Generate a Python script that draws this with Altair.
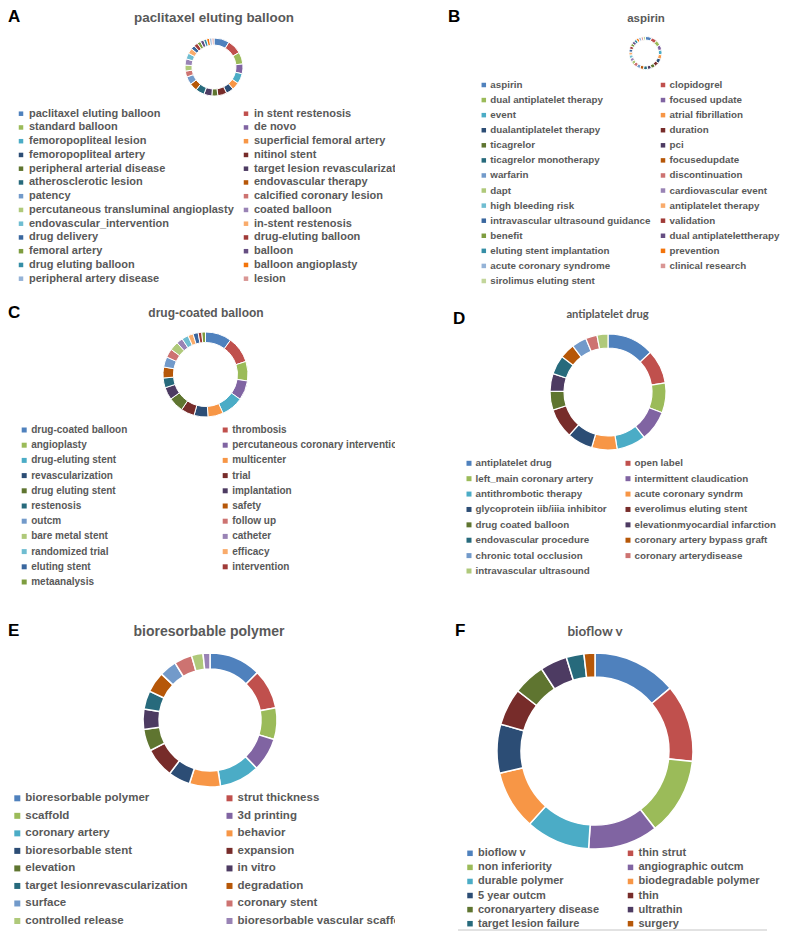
import altair as alt
import pandas as pd

palette = ["#4F81BD", "#C0504D", "#9BBB59", "#8064A2", "#4BACC6", "#F79646",
           "#2C4D75", "#772C2A", "#5F7530", "#4D3B62", "#276A7C", "#B65708",
           "#729ACA", "#CD7371", "#AFC97A", "#9983B5", "#6FBDD1", "#F9AB6B",
           "#3A679F", "#A03B38", "#7E9D40", "#654E82", "#358EA6", "#F3740B",
           "#95B3D7", "#D99694", "#C3D69B", "#B3A2C7", "#93CDDD", "#FAC090"]

a_title = "paclitaxel eluting balloon"
a_keys = ["paclitaxel eluting balloon", "in stent restenosis", "standard balloon", "de novo",
          "femoropopliteal lesion", "superficial femoral artery", "femoropopliteal artery",
          "nitinol stent", "peripheral arterial disease", "target lesion revascularization",
          "atherosclerotic lesion", "endovascular therapy", "patency", "calcified coronary lesion",
          "percutaneous transluminal angioplasty", "coated balloon", "endovascular_intervention",
          "in-stent restenosis", "drug delivery", "drug-eluting balloon", "femoral artery",
          "balloon", "drug eluting balloon", "balloon angioplasty", "peripheral artery disease",
          "lesion"]
a_vals = [31, 29, 24, 19.6, 20.6, 15, 15, 18, 12, 16, 17.7, 15.8, 16, 12, 12, 12.5, 12,
          10.6, 8, 8, 7, 7, 6, 6, 5, 4]

b_title = "aspirin"
b_keys = ["aspirin", "clopidogrel", "dual antiplatelet therapy", "focused update", "event",
          "atrial fibrillation", "dualantiplatelet therapy", "duration", "ticagrelor", "pci",
          "ticagrelor monotherapy", "focusedupdate", "warfarin", "discontinuation", "dapt",
          "cardiovascular event", "high bleeding risk", "antiplatelet therapy",
          "intravascular ultrasound guidance", "validation", "benefit",
          "dual antiplatelettherapy", "eluting stent implantation", "prevention",
          "acute coronary syndrome", "clinical research", "sirolimus eluting stent"]
b_vals = [22, 20, 19, 18, 17, 16, 16, 15, 15, 14, 14, 13, 13, 13, 12, 12, 12, 11, 11, 11,
          10, 10, 10, 9, 9, 8, 8]

c_title = "drug-coated balloon"
c_keys = ["drug-coated balloon", "thrombosis", "angioplasty", "percutaneous coronary intervention",
          "drug-eluting stent", "multicenter", "revascularization", "trial", "drug eluting stent",
          "implantation", "restenosis", "safety", "outcm", "follow up", "bare metal stent",
          "catheter", "randomized trial", "efficacy", "eluting stent", "intervention",
          "metaanalysis"]
c_vals = [36, 36, 26.7, 26.7, 30, 21, 19, 18.5, 20.6, 17, 13.4, 15, 14, 11.8, 12, 8.6, 9,
          7.2, 7, 5, 5]

d_title = "antiplatelet drug"
d_keys = ["antiplatelet drug", "open label", "left_main coronary artery",
          "intermittent claudication", "antithrombotic therapy", "acute coronary syndrm",
          "glycoprotein iib/iiia inhibitor", "everolimus eluting stent", "drug coated balloon",
          "elevationmyocardial infarction", "endovascular procedure",
          "coronary artery bypass graft", "chronic total occlusion", "coronary arterydisease",
          "intravascular ultrasound"]
d_vals = [47, 34, 30, 30.5, 29.5, 25.5, 25.5, 30, 19, 17.7, 19, 15, 15, 11.5, 11]

e_title = "bioresorbable polymer"
e_keys = ["bioresorbable polymer", "strut thickness", "scaffold", "3d printing",
          "coronary artery", "behavior", "bioresorbable stent", "expansion", "elevation",
          "in vitro", "target lesionrevascularization", "degradation", "surface",
          "coronary stent", "controlled release", "bioresorbable vascular scaffold"]
e_vals = [45, 34.5, 27.5, 29, 35, 27, 19, 26, 19, 17.6, 16, 18, 15, 15.5, 10, 6]

f_title = "bioflow v"
f_keys = ["bioflow v", "thin strut", "non inferiority", "angiographic outcm",
          "durable polymer", "biodegradable polymer", "5 year outcm", "thin",
          "coronaryartery disease", "ultrathin", "target lesion failure", "surgery"]
f_vals = [50, 46, 46, 41.5, 38, 35, 29, 22, 19, 16, 10.5, 6.5]

FONT = "Liberation Sans"
GREY = "#595959"


def panel(letter, title, keys, vals, w, h, letter_xy, title_xy, tfont, tsize, center,
          r_out, r_in, stroke_w, sq_x, txt_dx, row_y, fsize, sq_side, rule=None):
    n = len(keys)
    df = pd.DataFrame({"key": keys, "value": vals, "idx": list(range(n))})
    df["col"] = df["idx"] % 2
    df["row"] = df["idx"] // 2
    nrows = (n + 1) // 2
    color = alt.Color("key:N", scale=alt.Scale(domain=keys, range=palette[:n]), legend=None)
    base = alt.Chart(df)
    arc = base.mark_arc(outerRadius=r_out, innerRadius=r_in, stroke="white",
                        strokeWidth=stroke_w).encode(
        theta=alt.Theta("value:Q", stack=True),
        color=color,
        order=alt.Order("idx:Q"),
        x=alt.value(center[0]), y=alt.value(center[1]))
    xs = alt.X("col:Q", axis=None,
               scale=alt.Scale(domain=[0, 1], range=list(sq_x), nice=False, zero=False))
    ys = alt.Y("row:Q", axis=None,
               scale=alt.Scale(domain=[0, nrows - 1], range=list(row_y), nice=False, zero=False))
    sq = base.mark_square(size=sq_side ** 2, opacity=1).encode(x=xs, y=ys, color=color)
    txt = base.mark_text(align="left", baseline="middle", dx=txt_dx, font=FONT,
                         fontSize=fsize, fontWeight="bold", color=GREY, clip=True).encode(
        x=xs, y=ys, text="key:N")
    tdf = pd.DataFrame({"t": [title]})
    ttl = alt.Chart(tdf).mark_text(align="center", baseline="alphabetic", font=tfont,
                                   fontSize=tsize, fontWeight="bold", color=GREY).encode(
        text="t:N", x=alt.value(title_xy[0]), y=alt.value(title_xy[1]))
    ldf = pd.DataFrame({"t": [letter]})
    let = alt.Chart(ldf).mark_text(align="left", baseline="alphabetic", font=FONT,
                                   fontSize=17, fontWeight="bold", color="#000000").encode(
        text="t:N", x=alt.value(letter_xy[0]), y=alt.value(letter_xy[1]))
    layers = [arc, sq, txt, ttl, let]
    if rule is not None:
        rl = alt.Chart(ldf).mark_rule(color="#D9D9D9", strokeWidth=1.5).encode(
            x=alt.value(rule[0]), x2=alt.value(rule[1]), y=alt.value(rule[2]))
        layers.append(rl)
    return alt.layer(*layers).properties(width=w, height=h)


pA = panel("A", a_title, a_keys, a_vals, 387, 282, (0, 13), (206, 13), FONT, 13.4,
           (206, 58), 29, 22, 1, (13, 238), 8, (104.7, 269.7), 11, 4.5)
pB = panel("B", b_title, b_keys, b_vals, 386, 282, (53, 13), (251, 12.7), FONT, 11.5,
           (250.5, 44), 16.5, 13, 1, (88.8, 268), 6.5, (76, 272), 9.8, 4.5)
pC = panel("C", c_title, c_keys, c_vals, 387, 300, (0, 27), (198, 26), FONT, 12,
           (197.5, 83.5), 42.5, 32, 1, (16.2, 217.2), 7, (139, 291), 10, 5)
pD = panel("D", d_title, d_keys, d_vals, 386, 300, (58, 33), (212.5, 26.7), "Lato", 11.2,
           (213, 101), 58, 44, 1.2, (74, 233), 6.5, (172.3, 280), 9.8, 5)
pE = panel("E", e_title, e_keys, e_vals, 387, 340, (0, 45), (201, 45), FONT, 14,
           (202, 129), 67, 51, 1.5, (9.3, 221.5), 8, (207.3, 330), 11.5, 6)
pF = panel("F", f_title, f_keys, f_vals, 386, 340, (60, 45), (200, 45), "Lato", 13.5,
           (200, 160), 98, 74, 1.5, (75, 235.5), 8, (262.3, 332.7), 11, 5.5,
           rule=(63, 372, 339))

chart = alt.concat(pA, pB, pC, pD, pE, pF, columns=2, spacing=0, bounds="flush").resolve_scale(
    color="independent", x="independent", y="independent")
chart = chart.configure(padding=0).configure_view(strokeWidth=0)

chart.save("out.html", embed_options={"renderer": "svg", "actions": False})
